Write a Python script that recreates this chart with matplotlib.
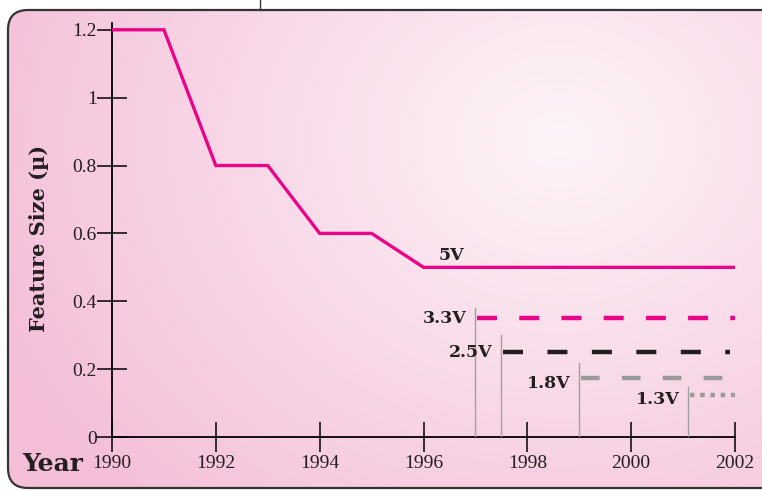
import matplotlib.pyplot as plt
import numpy as np
from matplotlib.patches import FancyBboxPatch

# data
years_5v = [1990, 1991, 1992, 1993, 1994, 1995, 1996, 2002]
size_5v = [1.2, 1.2, 0.8, 0.8, 0.6, 0.6, 0.5, 0.5]

voltages = ["3.3V", "2.5V", "1.8V", "1.3V"]
v_start = [1997, 1997.5, 1999, 2001.1]
v_end = [2002, 2001.9, 2002, 2002]
v_level = [0.35, 0.25, 0.175, 0.125]
v_marker_top = [0.38, 0.30, 0.218, 0.147]
label_drop = [0.0, 0.0, 0.018, 0.015]

x_ticks = [1990, 1992, 1994, 1996, 1998, 2000, 2002]
y_ticks = [0, 0.2, 0.4, 0.6, 0.8, 1, 1.2]
y_tick_labels = ["0", "0.2", "0.4", "0.6", "0.8", "1", "1.2"]

MAGENTA = "#e8058a"
styles = [
    dict(color=MAGENTA, dashes=(4.5, 5)),
    dict(color="#231f20", dashes=(4.5, 5.5)),
    dict(color="#9a9a9a", dashes=(4.2, 5)),
    dict(color="#9a9a9a", dashes=(1.0, 1.3)),
]

W, H = 762, 491
fig = plt.figure(figsize=(W / 100, H / 100), dpi=100)
fig.patch.set_facecolor("white")

# gradient background inside rounded frame
bg = fig.add_axes([0, 0, 1, 1])
bg.set_xlim(0, W)
bg.set_ylim(H, 0)
bg.axis("off")
xx, yy = np.meshgrid(np.linspace(0, W, 380), np.linspace(0, H, 245))
d = np.sqrt(((xx - 560) / 620) ** 2 + ((yy - 140) / 520) ** 2)
d = np.clip(d, 0, 1)
c_in = np.array([253, 244, 248]) / 255
c_out = np.array([244, 190, 216]) / 255
img = c_in[None, None, :] * (1 - d[..., None]) + c_out[None, None, :] * d[..., None]
im = bg.imshow(img, extent=(0, W, H, 0), aspect="auto", zorder=0)
frame = FancyBboxPatch((8, 10), W + 40, 478, boxstyle="round,pad=0,rounding_size=20",
                       facecolor="none", edgecolor="#333333", linewidth=1.6, zorder=2)
bg.add_patch(frame)
im.set_clip_path(frame)
bg.plot([260, 260], [0, 10], color="#333333", lw=1, zorder=3)

ax = fig.add_axes([112 / W, (H - 437) / H, (735 - 112) / W, (437 - 23) / H])
ax.patch.set_alpha(0)
ax.set_xlim(1990, 2002)
ax.set_ylim(0, 1.22)

ax.plot(years_5v, size_5v, color=MAGENTA, lw=2.4, solid_joinstyle="miter", zorder=4)
ax.text(1996.3, 0.51, "5V", fontsize=12.5, fontweight="bold", family="DejaVu Serif",
        color="#231f20", va="bottom")

for name, x0, x1, lvl, top, drop, st in zip(voltages, v_start, v_end, v_level,
                                             v_marker_top, label_drop, styles):
    ax.plot([x0, x0], [0, top], color="#a0a0a0", lw=1.0, zorder=3)
    ax.plot([x0 + 0.03, x1], [lvl, lvl], color=st["color"], lw=3.2,
            dashes=st["dashes"], zorder=4)
    ax.text(x0 - 0.17, lvl - drop, name, fontsize=12.5, fontweight="bold", family="DejaVu Serif",
            color="#231f20", ha="right", va="center")

for s in ["top", "right"]:
    ax.spines[s].set_visible(False)
ax.spines["left"].set_linewidth(1.3)
ax.spines["bottom"].set_linewidth(1.3)

ax.set_xticks(x_ticks)
ax.set_xticklabels([str(y) for y in x_ticks], family="Liberation Serif", fontsize=14,
                   color="#231f20")
ax.set_yticks(y_ticks)
ax.set_yticklabels(y_tick_labels, family="Liberation Serif", fontsize=14, color="#231f20")
ax.tick_params(axis="x", direction="inout", length=22, width=1.1, pad=2)
ax.tick_params(axis="y", direction="inout", length=22, width=1.1, pad=0)

ax.set_ylabel("Feature Size (\u00b5)", family="DejaVu Serif", fontweight="bold",
              fontsize=15, color="#231f20")
ax.yaxis.set_label_coords((49 - 112) / (735 - 112), (437 - 238) / (437 - 23))
fig.text(22 / W, (H - 464) / H, "Year", family="DejaVu Serif", fontweight="bold",
         fontsize=18, color="#231f20", va="center")

fig.savefig("out.png", dpi=100)
